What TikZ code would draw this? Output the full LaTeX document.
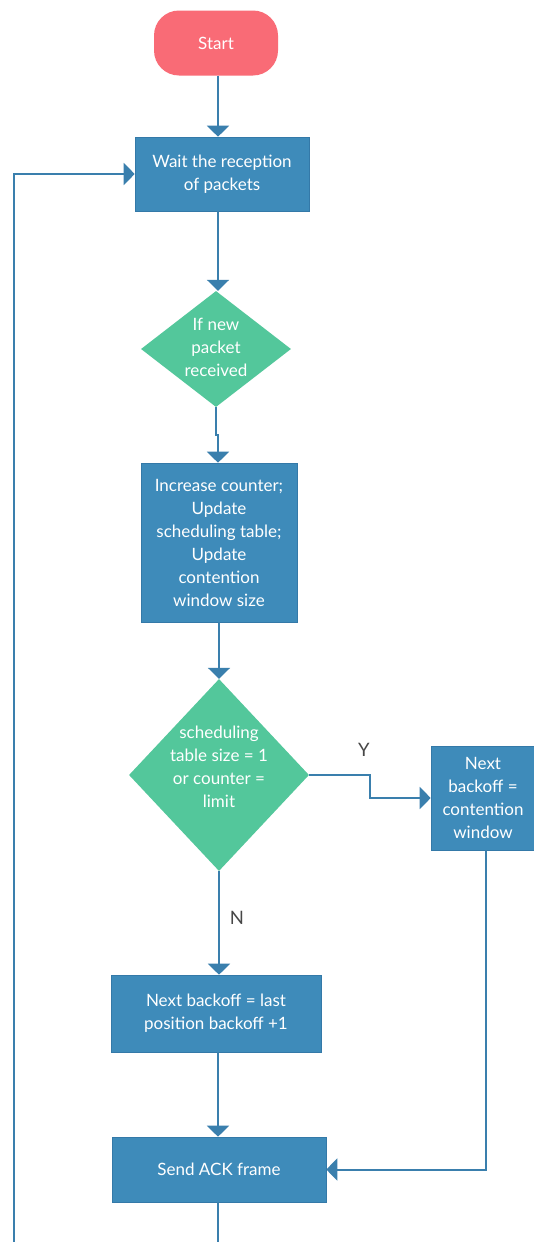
\documentclass[tikz,border=0pt]{standalone}
\usepackage{fontspec}
\setmainfont{Lato}
\usetikzlibrary{arrows.meta,shapes.geometric}
\definecolor{boxblue}{HTML}{3E8BBA}
\definecolor{boxedge}{HTML}{3479A8}
\definecolor{linkblue}{HTML}{3A7FAD}
\definecolor{decgreen}{HTML}{53C79B}
\definecolor{startred}{HTML}{F96B76}
\definecolor{labelgray}{HTML}{474747}
\tikzset{
  txt/.style={text=white, align=center, font=\fontsize{17}{23}\selectfont},
  procbox/.style={txt, rectangle, fill=boxblue, draw=boxedge, line width=0.6pt, inner sep=0pt},
  decbox/.style={diamond, fill=decgreen, draw=none, inner sep=0pt, aspect=1},
  termbox/.style={txt, rectangle, rounded corners=25pt, fill=startred, draw=none, inner sep=0pt},
  flow/.style={draw=linkblue, line width=2pt, -{Triangle[length=11pt,width=22pt]}},
  link/.style={draw=linkblue, line width=2pt},
  branch/.style={text=labelgray, font=\fontsize{18.5}{20}\selectfont}
}
\begin{document}
\begin{tikzpicture}[x=1pt,y=-1pt]
\useasboundingbox (0,0) rectangle (534,1242);
\fill[white] (0,0) rectangle (534,1242);
\clip (0,0) rectangle (534,1242);

% nodes of the flow
\node[termbox, minimum width=124pt, minimum height=65pt] (start) at (216,43) {Start};
\node[procbox, minimum width=174pt, minimum height=74pt] (wait) at (222,174) {Wait the reception\\of packets};
\node[decbox, minimum width=150pt, minimum height=116pt] (d1) at (216,349) {};
\node[txt] (d1t) at ([yshift=2pt]d1.center) {If new\\packet\\received};
\node[procbox, minimum width=156pt, minimum height=159pt] (upd) at (219,542.5) {Increase counter;\\Update\\scheduling table;\\Update\\contention\\window size};
\node[decbox, minimum width=180pt, minimum height=192pt] (d2) at (219,775) {};
\node[txt] (d2t) at ([yshift=8pt]d2.center) {scheduling\\table size = 1\\or counter =\\limit};
\node[procbox, minimum width=104pt, minimum height=104pt] (cw) at (483,798) {Next\\backoff =\\contention\\window};
\node[procbox, minimum width=210pt, minimum height=77pt] (last) at (216,1013.5) {Next backoff = last\\position backoff +1};
\node[procbox, minimum width=214pt, minimum height=65pt] (ack) at (219,1169.5) {Send ACK frame};

% guide columns and free ends running below the frame
\coordinate (col) at (218,0);
\coordinate (jog) at (216,435);
\coordinate (turn) at (370,0);
\coordinate (drop) at (486,0);
\coordinate (loopin) at (14,1260);

% connectors
\draw[flow] (start.south -| col) -- (col |- wait.north);
\draw[flow] (wait.south -| col) -- (col |- d1.north);
\draw[flow] (d1.south) -- (jog) -- (jog -| col) -- (col |- upd.north);
\draw[flow] (upd.south) -- (upd.south |- d2.north);
\draw[flow] (d2.east) -- (turn |- d2.east) |- (cw.west);
\draw[flow] (d2.south) -- (d2.south |- last.north);
\draw[flow] (last.south -| col) -- (col |- ack.north);
\draw[flow] (cw.south -| drop) |- (ack.east);
\draw[link] (ack.south -| col) -- (col |- loopin);
\draw[flow] (loopin) |- (wait.west);

% branch labels
\node[branch] (yes) at (364,750) {Y};
\node[branch] (no) at (237,918) {N};
\end{tikzpicture}
\end{document}
